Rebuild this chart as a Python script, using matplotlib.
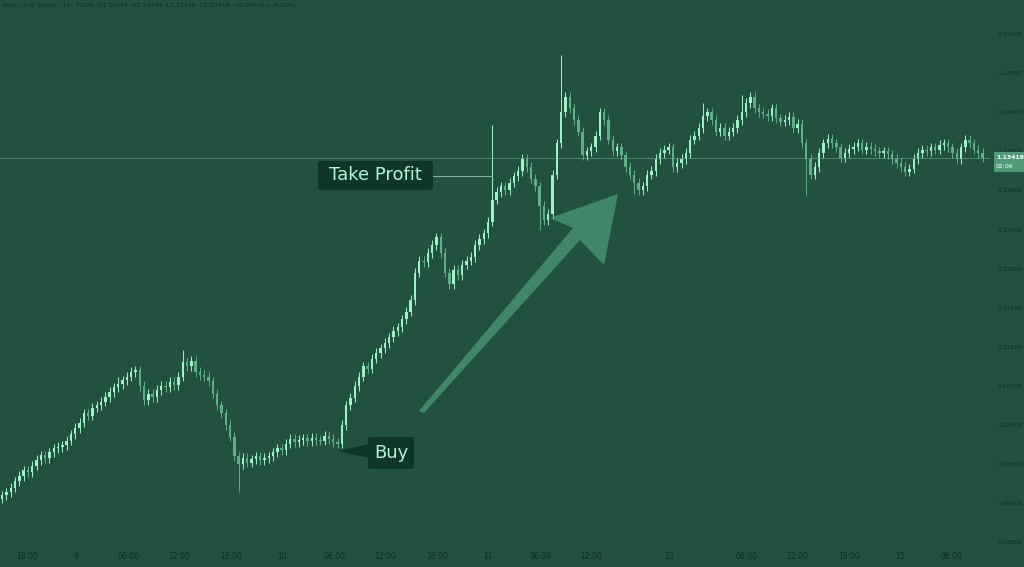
import matplotlib
matplotlib.use("Agg")
import matplotlib.pyplot as plt
from matplotlib.patches import Polygon, FancyBboxPatch

# closes in pips above 1.08000 (30-minute bars)
closes = [110,114,120,128,135,142,140,148,155,161,158,165,170,172,174,180,188,196,203,
          215,212,222,225,230,236,242,248,252,257,262,268,270,250,232,240,236,245,250,
          248,255,251,262,280,275,282,268,264,262,256,240,225,215,200,185,160,150,158,152,
          156,160,155,158,160,165,170,168,176,182,178,181,183,179,184,181,180,186,182,178,176,
          200,225,235,250,262,275,272,285,292,298,305,312,320,325,335,345,360,395,410,408,
          420,430,440,420,395,380,398,392,405,410,415,430,438,445,460,488,498,505,500,510,518,525,
          540,530,515,505,480,462,470,520,560,600,620,605,590,575,545,550,555,570,600,590,
          565,550,555,545,530,520,510,500,505,520,525,540,548,552,555,530,535,540,548,565,570,
          580,595,600,590,575,580,570,575,580,590,600,612,620,605,600,598,595,605,592,588,590,
          594,580,585,560,540,520,530,548,560,566,560,555,542,548,553,556,560,552,556,553,550,
          548,550,546,540,535,530,524,528,540,548,552,550,555,552,558,560,555,548,540,555,565,
          560,552,548,542]
first_open = 106
spike_high = {114: 584, 130: 673, 42: 296, 27: 262, 163: 612, 172: 622}
spike_low = {55: 114, 125: 449, 187: 494, 147: 496, 0: 100}
wick = 6
x_ticks_px = [27, 76, 128, 179, 231, 282, 334, 385, 437, 488, 540, 591, 669, 746, 797, 849, 900, 952]
x_labels = ["18:00", "9", "06:00", "12:00", "18:00", "10", "06:00", "12:00", "18:00", "11",
            "06:00", "12:00", "13", "06:00", "12:00", "18:00", "15", "06:00"]
y_ticks = [1.085, 1.09, 1.095, 1.10, 1.105, 1.11, 1.115, 1.12, 1.125, 1.13, 1.135, 1.14, 1.145, 1.15]
last_price = 1.13418

BG = "#22513f"
UP = "#9ff2c6"
DN = "#5fae86"
W, H = 1024, 567
fig = plt.figure(figsize=(W/100, H/100), dpi=100, facecolor=BG)
axw = 990 / W
ax = fig.add_axes([0, 19/H, axw, 548/H], facecolor=BG)
PX = 4.3  # pixels per bar
xmax = 990 / PX
ax.set_xlim(0, xmax)
ax.set_ylim(1.08427, 1.15435)

def p(v):
    return 1.08 + v / 10000.0

o = first_open
for i, c in enumerate(closes):
    x = i + 0.5
    hi = max(o, c) + wick
    lo = min(o, c) - wick
    if i in spike_high: hi = spike_high[i]
    if i in spike_low: lo = spike_low[i]
    col = UP if c >= o else DN
    ax.vlines(x, p(lo), p(hi), color=col, lw=0.7)
    b0, b1 = min(o, c), max(o, c)
    if b1 - b0 < 1: b1 = b0 + 1
    ax.bar(x, p(b1) - p(b0), bottom=p(b0), width=0.55, color=col, linewidth=0)
    o = c

ax.axhline(last_price, color="#6fa88c", lw=0.6, alpha=0.7)
for s in ax.spines.values():
    s.set_visible(False)
ax.set_xticks([px / PX for px in x_ticks_px])
ax.set_xticklabels(x_labels)
ax.tick_params(axis="x", length=0, colors="#0f2a1f", labelsize=5.5, pad=3)
ax.yaxis.tick_right()
ax.set_yticks(y_ticks)
ax.set_yticklabels([f"{v:.5f}" for v in y_ticks])
ax.tick_params(axis="y", length=0, colors="#0f2a1f", labelsize=4.4, pad=5)

def fx(px): return px / W
def fy(py): return 1 - py / H

# price label on the right
fig.patches.append(FancyBboxPatch((fx(994), fy(172)), 30/W, 20/H, boxstyle="square,pad=0",
                                  transform=fig.transFigure, fc="#4f9b78", ec="none"))
fig.text(fx(996), fy(157.5), "1.13418", fontsize=4.4, color="white", weight="bold", va="center")
fig.text(fx(996), fy(166), "02:06", fontsize=4.4, color="white", va="center")

# big arrow
arrow = [(419, 411), (424, 413), (580, 240), (604, 265), (618, 194), (550, 218), (573, 228)]
fig.patches.append(Polygon([(fx(a), fy(b)) for a, b in arrow], closed=True,
                           transform=fig.transFigure, fc="#4a9a76", ec="none", alpha=0.75))

# take profit label
fig.lines.append(plt.Line2D([fx(433), fx(492)], [fy(176), fy(176)], transform=fig.transFigure,
                            color="#7fb59b", lw=0.8))
fig.patches.append(FancyBboxPatch((fx(318), fy(190)), 115/W, 29/H, boxstyle="round,pad=0,rounding_size=0.003",
                                  transform=fig.transFigure, fc="#10352a", ec="none"))
fig.text(fx(375), fy(175.5), "Take Profit", fontsize=13, color="#b4f5d2", ha="center", va="center")

# buy label
fig.patches.append(Polygon([(fx(369), fy(444)), (fx(338), fy(451)), (fx(369), fy(458))], closed=True,
                           transform=fig.transFigure, fc="#10352a", ec="none"))
fig.patches.append(FancyBboxPatch((fx(368), fy(469)), 46/W, 32/H, boxstyle="round,pad=0,rounding_size=0.003",
                                  transform=fig.transFigure, fc="#10352a", ec="none"))
fig.text(fx(391), fy(453), "Buy", fontsize=13, color="#b4f5d2", ha="center", va="center")

fig.text(fx(3), fy(6), "Euro / U.S. Dollar · 15 · FXCM  O1.13454  H1.13474  L1.13346  C1.13418  −0.00036 (−0.03%)",
         fontsize=4.5, color="#0f2a1f", va="center")

fig.savefig("out.png", dpi=100, facecolor=BG)
